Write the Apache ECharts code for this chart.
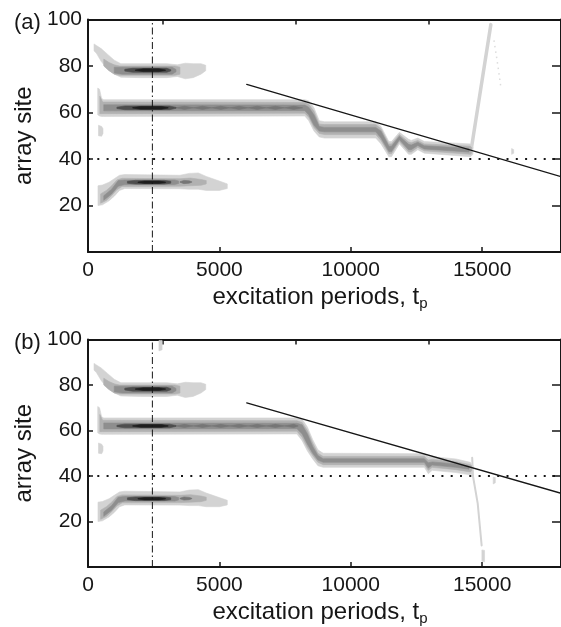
<!DOCTYPE html>
<html>
<head>
<meta charset="utf-8">
<script src="https://cdn.jsdelivr.net/npm/echarts@6/dist/echarts.min.js"></script>
<style>
html,body{margin:0;padding:0;background:#fff;}
#chart{width:561px;height:627px;}
</style>
</head>
<body>
<div id="chart"></div>
<script>
// ---------- tick values ----------
const xTicks = [0, 5000, 10000, 15000];
const yTicks = [20, 40, 60, 80, 100];
const topTicks = [2850, 7900, 12950];
const rightTicks = [0, 20, 40, 60, 80, 100];

// ---------- reference lines ----------
const markerX = [[2450, 0], [2450, 100]];
const level40 = [[0, 40], [18000, 40]];
const diagLine = [[6040, 72.1], [18000, 32.4]];

// ---------- density bands: [x, low, high] per grey level ----------
// upper band (~78), same in both panels
const upperL1 = [[230,86.5,89.5],[320,85.5,88.8],[500,82,87.5],[750,78.5,85],[1000,76.5,82.5],[1250,75.2,81],[2000,75,81],[3000,75,81],[3400,75.5,80.5],[3700,74.5,81.2],[4000,75,81],[4300,76.5,81],[4480,78,80.3]];
const upperL2 = [[600,80,83],[800,78,81.5],[1000,76.5,80.5],[1200,76,80],[3300,76,80],[3500,76.5,79.5]];
const upperL3 = [[1000,77,79.5],[1300,76.5,79.5],[3200,76.5,79.5],[3350,77.5,78.5]];
const upperL4 = [[1400,77.8,78.6],[1700,77.3,79],[3000,77.3,79],[3150,77.9,78.4]];
const upperL5 = [[1800,78.1,78.3],[2100,77.6,78.8],[2700,77.6,78.8],[2950,78.1,78.3]];

// lower band (~30), same in both panels
const lowerL1 = [[380,20,28.5],[550,20.3,28.8],[800,22,30],[1000,24,31.5],[1200,26.5,33],[1400,27.3,33.3],[3500,27.2,33],[3850,27,33.8],[4200,27,34],[4500,26.5,32.5],[5000,26.5,30.5],[5300,27.3,29.3]];
const lowerL2 = [[480,21,25],[700,22.2,26.5],[900,24.3,28.5],[1100,26.8,31],[1300,28.2,31.7],[3500,28.3,31.5],[3900,28.5,31.8],[4300,28.7,31.2],[4500,29.3,30.7]];
const lowerL3 = [[600,22.3,24.2],[900,25,27],[1150,28.3,30.7],[1400,29,31],[3300,29,31],[3450,29.5,30.5]];
const lowerBlob = [[3500,30,30.2],[3650,29.4,30.8],[3850,29.6,30.6],[3950,30,30.2]];
const lowerL4 = [[1500,29.6,30.4],[1800,29.2,30.8],[2900,29.2,30.8],[3150,29.6,30.4]];
const lowerL5 = [[1900,29.9,30.1],[2150,29.5,30.5],[2700,29.5,30.5],[2950,29.9,30.1]];

// small patch left of middle band
const sideBlob = [[400,50,54.5],[520,49.8,54],[570,51,53]];

// middle band (~62), shared dark core
const midL4 = [[1100,61.7,62.3],[1400,61.2,62.8],[3100,61.2,62.8],[3350,61.8,62.2]];
const midL5 = [[1700,61.9,62.1],[2000,61.4,62.6],[2800,61.4,62.6],[3050,61.9,62.1]];

// middle band, panel (a)
const midA_L1 = [[370,59,70.5],[440,58.5,70],[520,58.3,66],[600,58.3,65.5],[8250,58.5,65.5],[8400,56.5,65],[8600,52,62],[8800,49.5,56.5],[9000,49,56],[10950,49,56],[11150,46.5,54],[11450,41,47.5],[11550,41,47.5],[11850,46.5,51.5],[12200,42,48.5],[12300,42,48],[12550,44,49],[12800,42.5,47.5],[14550,41,46.5],[14650,42,45]];
const midA_L2 = [[450,59.5,67],[560,59.5,64.5],[8250,59.7,64.3],[8400,58,63.5],[8600,53.5,60.5],[8800,51,55],[9000,50.5,54.8],[10950,50.5,54.8],[11150,48,53],[11450,42.3,46.5],[11550,42.3,46.5],[11850,47.5,50.5],[12200,43,47.3],[12300,43,47],[12550,45,48],[12800,43.5,46.5],[14550,42,45.5],[14600,42.5,45]];
const midA_L3 = [[600,60.7,63.3],[8250,60.8,63.2],[8400,59,62.3],[8600,54.5,59],[8800,52,54],[9000,51.7,53.6],[10950,51.7,53.6],[11150,49,52],[11450,43.2,45.5],[11550,43.2,45.5],[11850,48.3,49.8],[12200,44,46.3],[12300,44,46],[12550,45.8,47.2],[12800,44.3,45.7],[14500,43,44.6]];
const midA_blobs = [[3330,62,62],[3670,61.3,62.7],[4015,62,62],[4360,61.3,62.7],[4705,62,62],[5050,61.3,62.7],[5400,62,62],[5750,61.3,62.7],[6095,62,62],[6440,61.3,62.7],[6785,62,62],[7130,61.3,62.7],[7480,62,62],[7830,61.3,62.7],[8170,62,62]];

// middle band, panel (b)
const midB_L1 = [[370,59,70.5],[440,58.5,70],[520,58.3,66],[600,58.3,65.5],[7950,58.5,65.5],[8150,55.5,65],[8350,51,61.5],[8550,47.5,56],[8750,44.5,51.5],[8950,43.8,50],[12800,43.8,49.8],[12950,41,48.5],[13100,42.5,48.5],[14000,41.5,47.5],[14550,40.5,46],[14650,41,44.5]];
const midB_L2 = [[450,59.5,67],[560,59.5,64.5],[7950,59.7,64.3],[8150,57,63.5],[8350,52.5,60],[8550,49,54.5],[8750,46,50],[8950,45,48.6],[12800,45,48.6],[12950,42.5,47],[13100,43.8,47.3],[14000,42.8,46.3],[14550,41.8,45],[14600,42.3,44.5]];
const midB_L3 = [[600,60.7,63.3],[7950,60.8,63.2],[8150,58.5,62.5],[8350,54,58.5],[8550,50,53],[8750,47,49],[8950,46,47.6],[12800,46,47.6],[12950,43.5,45.8],[13100,44.8,46.2],[14000,43.8,45.3],[14500,43,44.3]];
const midB_blobs = [[3330,62,62],[3670,61.3,62.7],[4015,62,62],[4360,61.3,62.7],[4705,62,62],[5050,61.3,62.7],[5400,62,62],[5750,61.3,62.7],[6095,62,62],[6440,61.3,62.7],[6785,62,62],[7130,61.3,62.7],[7480,62,62],[7830,61.3,62.7],[8000,62,62]];

// faint traces, panel (a)
const spikeA = [[14560, 42.5], [15330, 97.8]];
const traceA = [[15450, 91], [15600, 80], [15710, 71]];
const markA = [[16120,42,44.5],[16200,42.5,44]];
// faint traces, panel (b)
const traceB = [[14620, 48], [14650, 40], [14830, 28], [14980, 9.5]];
const blobB = [[14990,2.5,7.5],[15090,2.3,7.3]];
const markB = [[15420,36.5,39.5],[15500,37,39.3]];
const topBlobB = [[2700,95,99.6],[2820,95.5,99.6]];

// ---------- styling ----------
const FONT = 'Liberation Sans, Arial, Helvetica, sans-serif';
const C1 = '#d3d3d3', C2 = '#b1b1b1', C3 = '#8e8e8e', CB = '#767676', C4 = '#4e4e4e', C5 = '#1e1e1e';
const INK = '#161616';

function poly(data, color, panel, z) {
  return {
    type: 'custom', xAxisIndex: panel * 2, yAxisIndex: panel * 2,
    data: data, z: z, silent: true, clip: true, animation: false,
    encode: { x: 0, y: [1, 2] },
    renderItem: function (params, api) {
      if (params.dataIndexInside !== 0) return null;
      var up = [], lo = [];
      for (var i = 0; i < data.length; i++) {
        up.push(api.coord([api.value(0, i), api.value(2, i)]));
        lo.push(api.coord([api.value(0, i), api.value(1, i)]));
      }
      return { type: 'polygon', shape: { points: up.concat(lo.reverse()) },
               style: { fill: color, stroke: color, lineWidth: 0.6 } };
    }
  };
}
function line(data, color, width, type, panel, z, cap) {
  return {
    type: 'line', xAxisIndex: panel * 2, yAxisIndex: panel * 2, data: data,
    symbol: 'none', silent: true, animation: false, z: z, clip: true,
    lineStyle: { color: color, width: width, type: type, cap: cap || 'round' }
  };
}

function panelSeries(p) {
  const s = [];
  s.push(poly(upperL1, C1, p, 2), poly(upperL2, C2, p, 3), poly(upperL3, C3, p, 4), poly(upperL4, C4, p, 5), poly(upperL5, C5, p, 6));
  s.push(poly(lowerL1, C1, p, 2), poly(lowerL2, C2, p, 3), poly(lowerL3, C3, p, 4), poly(lowerBlob, CB, p, 4), poly(lowerL4, C4, p, 5), poly(lowerL5, C5, p, 6));
  s.push(poly(sideBlob, C1, p, 2));
  if (p === 0) {
    s.push(poly(midA_L1, C1, p, 2), poly(midA_L2, C2, p, 3), poly(midA_L3, C3, p, 4), poly(midA_blobs, CB, p, 4));
    s.push(line(spikeA, C1, 3.5, 'solid', p, 2), line(traceA, '#dcdcdc', 1.5, [1.5, 4], p, 2, 'butt'), poly(markA, C1, p, 2));
  } else {
    s.push(poly(midB_L1, C1, p, 2), poly(midB_L2, C2, p, 3), poly(midB_L3, C3, p, 4), poly(midB_blobs, CB, p, 4));
    s.push(line(traceB, C1, 2, 'solid', p, 2), poly(blobB, C1, p, 2), poly(markB, C1, p, 2), poly(topBlobB, C1, p, 2));
  }
  s.push(poly(midL4, C4, p, 5), poly(midL5, C5, p, 6));
  s.push(line(markerX, INK, 1, [7, 3, 1.5, 3], p, 10, 'butt'));
  s.push(line(level40, INK, 2, [2, 7.3], p, 10, 'butt'));
  s.push(line(diagLine, INK, 1.3, 'solid', p, 10));
  return s;
}

const gridTops = [19.5, 339.5];
const grids = gridTops.map(t => ({ left: 88, top: t, width: 476, height: 232.5 }));
const plain = v => String(v);

const xAxes = [], yAxes = [];
[0, 1].forEach(function (p) {
  xAxes.push({
    type: 'value', gridIndex: p, position: 'bottom', min: 0, max: 18000,
    axisLine: { show: true, onZero: false, lineStyle: { color: INK, width: 2 } },
    axisTick: { show: true, inside: true, length: 5, customValues: xTicks, lineStyle: { color: INK, width: 1.5 } },
    axisLabel: { customValues: xTicks, formatter: plain, fontFamily: FONT, fontSize: 21, color: INK, margin: 8 },
    splitLine: { show: false },
    name: 'excitation periods, t{s|p}', nameLocation: 'middle', nameGap: 31,
    nameTextStyle: { fontFamily: FONT, fontSize: 24, color: INK, lineHeight: 28, padding: [0, 9, 0, 0],
      rich: { s: { fontFamily: FONT, fontSize: 15, color: INK, verticalAlign: 'bottom', lineHeight: 15 } } }
  });
  xAxes.push({
    type: 'value', gridIndex: p, position: 'top', min: 0, max: 18000,
    axisLine: { show: true, onZero: false, lineStyle: { color: INK, width: 2 } },
    axisTick: { show: true, inside: true, length: 5, customValues: topTicks, lineStyle: { color: INK, width: 1.5 } },
    axisLabel: { show: false }, splitLine: { show: false }
  });
  yAxes.push({
    type: 'value', gridIndex: p, position: 'left', min: 0, max: 100, interval: 20,
    axisLine: { show: true, onZero: false, lineStyle: { color: INK, width: 2 } },
    axisTick: { show: true, inside: true, length: 5, lineStyle: { color: INK, width: 1.5 } },
    axisLabel: { customValues: yTicks, formatter: plain, fontFamily: FONT, fontSize: 21, color: INK, margin: 6 },
    splitLine: { show: false },
    name: 'array site', nameLocation: 'middle', nameRotate: 90, nameGap: 48,
    nameTextStyle: { fontFamily: FONT, fontSize: 24, color: INK }
  });
  yAxes.push({
    type: 'value', gridIndex: p, position: 'right', min: 0, max: 100,
    axisLine: { show: true, onZero: false, lineStyle: { color: INK, width: 2 } },
    axisTick: { show: true, inside: true, length: 9, customValues: rightTicks, lineStyle: { color: INK, width: 1.5 } },
    axisLabel: { show: false }, splitLine: { show: false }
  });
});

const chart = echarts.init(document.getElementById('chart'), null, { renderer: 'canvas' });
chart.setOption({
  animation: false,
  backgroundColor: '#ffffff',
  title: [
    { text: '(a)', left: 14, top: 12, padding: 0, textStyle: { fontFamily: FONT, fontSize: 22, fontWeight: 'normal', color: INK } },
    { text: '(b)', left: 14, top: 332, padding: 0, textStyle: { fontFamily: FONT, fontSize: 22, fontWeight: 'normal', color: INK } }
  ],
  grid: grids,
  xAxis: xAxes,
  yAxis: yAxes,
  series: panelSeries(0).concat(panelSeries(1))
});
</script>
</body>
</html>
